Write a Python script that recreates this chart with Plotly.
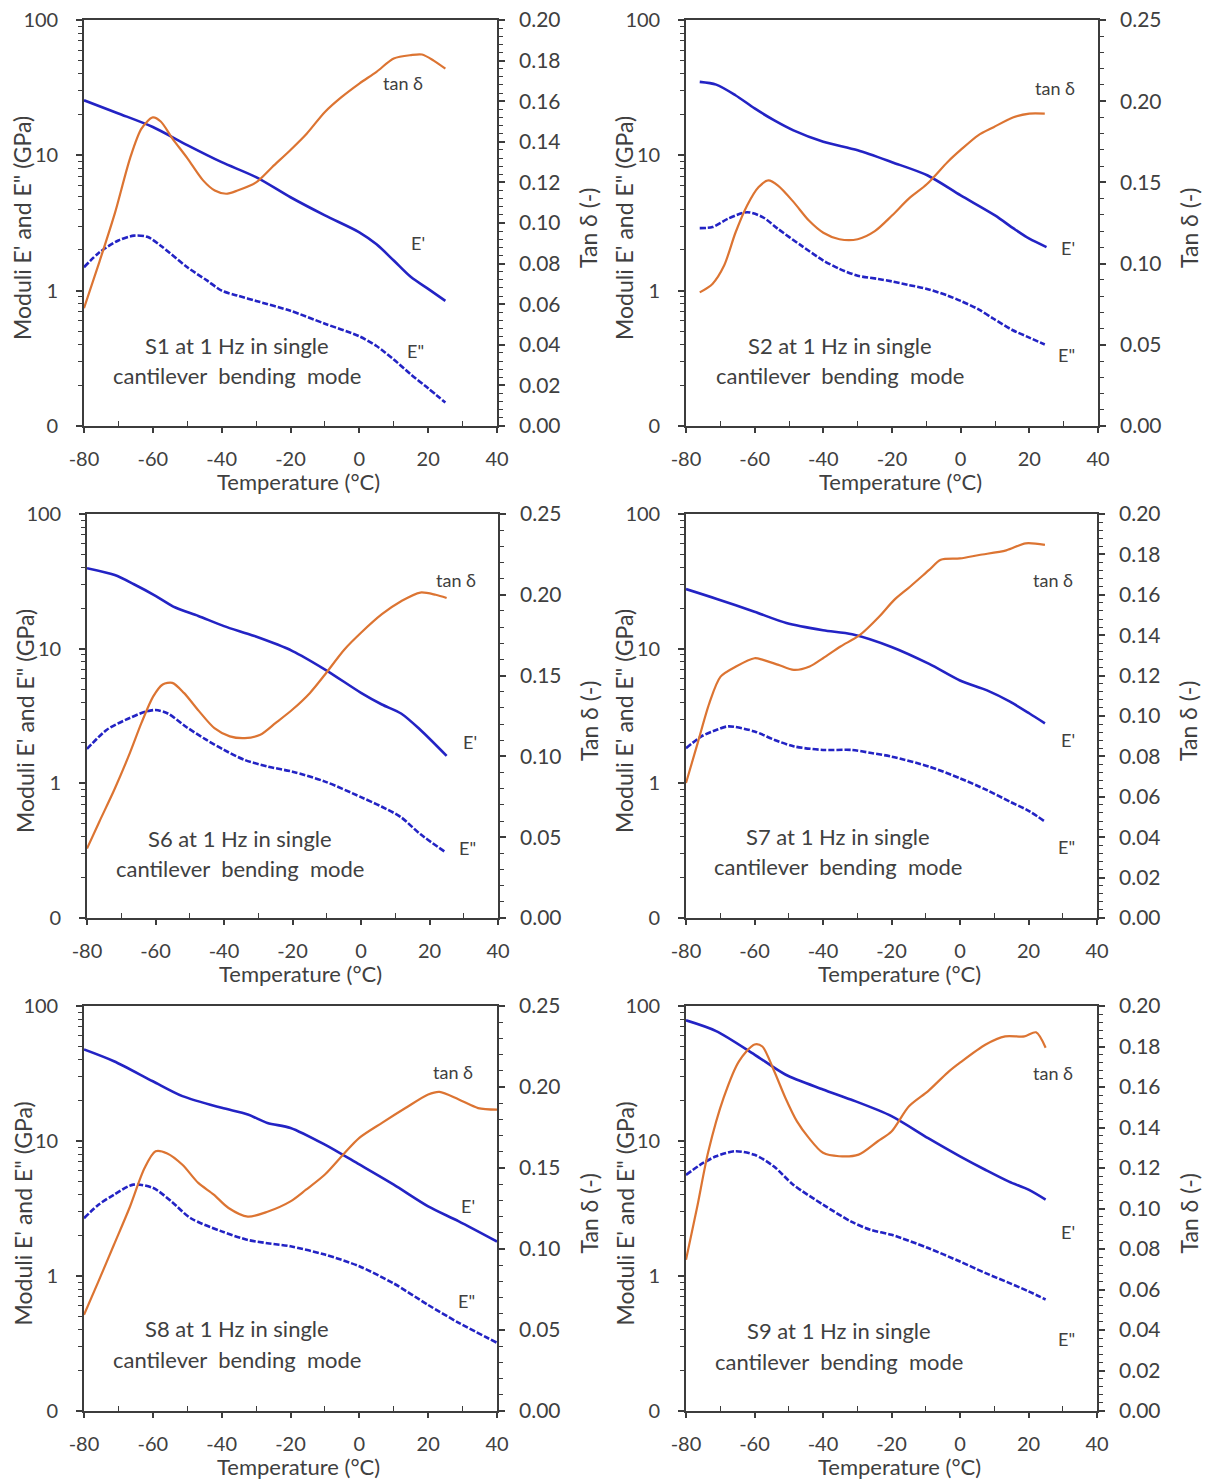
import plotly.graph_objects as go

# ---------------- data ----------------
# S1
S1_T_E1 = [-80, -70, -60, -50, -40, -30, -20, -10, 0, 5, 10, 15, 20, 25]
S1_E1 = [25.5, 20.4, 16.2, 11.9, 8.9, 6.9, 4.9, 3.6, 2.7, 2.2, 1.67, 1.26, 1.03, 0.84]
S1_T_E2 = [-80, -75.5, -70, -65.5, -61.6, -57.7, -50, -44.3, -40, -35.4, -30, -20, -10, 0, 5, 10, 15, 20, 25]
S1_E2 = [1.49, 1.92, 2.35, 2.55, 2.5, 2.15, 1.49, 1.19, 1.0, 0.92, 0.84, 0.71, 0.57, 0.46, 0.39, 0.31, 0.24, 0.19, 0.149]
S1_T_TAN = [-80, -75.5, -71, -66.6, -63.3, -60, -57.7, -54.3, -50, -45.4, -42, -38.7, -35.4, -30, -25.3, -20,
            -15.3, -10, -5.2, 0, 5, 10, 15, 18.2, 21.6, 25]
S1_TAN = [0.058, 0.081, 0.105, 0.132, 0.1465, 0.152, 0.150, 0.1416, 0.132, 0.121, 0.116, 0.1144, 0.116, 0.120,
          0.1276, 0.136, 0.144, 0.1547, 0.162, 0.1687, 0.1745, 0.181, 0.1827, 0.183, 0.180, 0.176]

# S2
S2_T_E1 = [-76, -71.2, -65.6, -60, -54.4, -48.7, -40, -30, -20, -9.6, 0, 10, 15.5, 20, 25]
S2_E1 = [34.9, 33.3, 27.8, 22.2, 18.2, 15.3, 12.6, 10.9, 8.9, 7.1, 5.06, 3.6, 2.87, 2.42, 2.1]
S2_T_E2 = [-76, -72.3, -67.8, -62.2, -57.7, -53.2, -46.4, -40, -35.3, -30, -24, -20, -15.1, -9.8, -3.8, 0,
           5.1, 9.6, 15.2, 20, 24.5]
S2_E2 = [2.9, 2.95, 3.4, 3.8, 3.5, 2.86, 2.15, 1.67, 1.45, 1.29, 1.22, 1.17, 1.10, 1.03, 0.92, 0.84,
         0.73, 0.62, 0.51, 0.45, 0.40]
S2_T_TAN = [-76, -72.3, -68.9, -65.6, -62.2, -58.9, -56, -53.2, -48.7, -44.2, -40, -35.3, -30, -25, -20,
            -15.1, -9.8, -3.8, 0, 5.1, 9.6, 15.2, 20, 24.5]
S2_TAN = [0.0823, 0.0875, 0.0988, 0.119, 0.1358, 0.147, 0.1512, 0.148, 0.138, 0.1265, 0.119, 0.115, 0.115,
          0.120, 0.1296, 0.140, 0.149, 0.1626, 0.170, 0.179, 0.184, 0.190, 0.1924, 0.1924]

# S6
S6_T_E1 = [-80, -71.9, -66.3, -60, -54.2, -47.5, -40, -31.1, -20, -10.5, 0, 6.1, 11.7, 17.3, 25]
S6_E1 = [39.6, 35.2, 30.1, 24.7, 20.2, 17.5, 14.7, 12.4, 9.6, 7.0, 4.7, 3.85, 3.3, 2.5, 1.6]
S6_T_E2 = [-80, -74.2, -68.6, -63, -60, -56.4, -50.8, -45.1, -40, -33.9, -27.1, -20, -10.5, 0, 6.1, 11.7,
           17.3, 24.5]
S6_E2 = [1.8, 2.5, 2.97, 3.4, 3.5, 3.3, 2.6, 2.1, 1.77, 1.49, 1.33, 1.22, 1.03, 0.79, 0.67, 0.56, 0.42, 0.31]
S6_T_TAN = [-80, -76.4, -71.9, -67.5, -64.1, -60.7, -57.9, -55.1, -51.7, -47.3, -42.8, -38.3, -33.9, -29.4,
            -24.9, -20, -14.9, -10.5, -4.9, 0, 6.1, 11.7, 17.3, 21.8, 25]
S6_TAN = [0.043, 0.0596, 0.080, 0.102, 0.1207, 0.137, 0.1445, 0.1455, 0.1393, 0.128, 0.1175, 0.1124, 0.1113,
          0.1134, 0.1207, 0.129, 0.1393, 0.1507, 0.166, 0.1765, 0.188, 0.196, 0.2014, 0.200, 0.198]

# S7
S7_T_E1 = [-80, -71, -60, -50.7, -40, -31.5, -20, -9, 0, 7.9, 14.6, 20.3, 24.8]
S7_E1 = [27.7, 23.4, 18.8, 15.5, 13.7, 12.8, 10.3, 7.7, 5.8, 4.9, 4.04, 3.3, 2.79]
S7_T_E2 = [-80, -75.5, -71, -67.6, -60, -54.1, -48.4, -40, -31.5, -25.9, -20, -9, 0, 7.9, 14.6, 20.3, 24.8]
S7_E2 = [1.82, 2.23, 2.5, 2.65, 2.43, 2.1, 1.88, 1.77, 1.77, 1.68, 1.58, 1.33, 1.09, 0.89, 0.73, 0.62, 0.52]
S7_T_TAN = [-80, -76.6, -73.2, -69.9, -65.4, -60, -57.5, -53, -48.5, -43.9, -40, -34.9, -29.3, -23.7, -19.2,
            -14.6, -9, -5.6, 0, 5.6, 13.5, 19.2, 24.8]
S7_TAN = [0.0668, 0.0866, 0.1063, 0.1195, 0.1245, 0.1286, 0.1278, 0.1253, 0.1228, 0.1245, 0.1286, 0.1344,
          0.140, 0.149, 0.1575, 0.164, 0.1723, 0.1773, 0.178, 0.1797, 0.182, 0.1855, 0.1847]

# S8
S8_T_E1 = [-80, -71.3, -60, -51.4, -40, -32.4, -26.7, -20, -10, 0, 10, 20, 28.9, 40]
S8_E1 = [47.7, 39, 27.7, 21.5, 17.6, 15.7, 13.6, 12.5, 9.4, 6.7, 4.75, 3.28, 2.54, 1.8]
S8_T_E2 = [-80, -75.8, -71.3, -65.7, -60, -54.6, -49.1, -40, -32.4, -26.7, -20, -10, 0, 10, 20, 28.9, 40]
S8_E2 = [2.68, 3.37, 4.0, 4.75, 4.5, 3.57, 2.69, 2.14, 1.85, 1.75, 1.66, 1.44, 1.18, 0.88, 0.61, 0.45, 0.32]
S8_T_TAN = [-80, -75.8, -71.3, -66.8, -62.4, -59.2, -55.8, -51.4, -46.8, -42.3, -38, -32.4, -26.7, -20,
            -15.5, -10, -4.4, 0, 6.7, 13.4, 20, 23.3, 28.9, 34.5, 40]
S8_TAN = [0.0594, 0.08, 0.1026, 0.1253, 0.150, 0.1603, 0.159, 0.152, 0.1408, 0.1336, 0.1253, 0.120, 0.123,
          0.1294, 0.1366, 0.146, 0.159, 0.1686, 0.178, 0.187, 0.1954, 0.197, 0.1923, 0.187, 0.186]

# S9
S9_T_E1 = [-80, -71.2, -60, -51, -40, -31.9, -20, -9.3, 0, 7.5, 14.3, 20, 25]
S9_E1 = [78.3, 65.2, 43.7, 31.1, 24.1, 20.3, 15.3, 10.5, 7.7, 6.1, 5.0, 4.36, 3.68]
S9_T_E2 = [-80, -75.7, -71.2, -65.6, -60, -54.4, -48.7, -40, -31.9, -26.2, -20, -9.3, 0, 7.5, 14.3, 20, 25]
S9_E2 = [5.6, 6.7, 7.7, 8.4, 7.9, 6.5, 4.75, 3.38, 2.54, 2.2, 2.02, 1.61, 1.28, 1.05, 0.89, 0.77, 0.67]
S9_T_TAN = [-80, -76.8, -73.5, -69, -64.5, -60, -57.7, -54.3, -51, -47.6, -44.2, -40, -35.3, -29.6, -24, -20,
            -14.9, -9.3, -3.7, 0, 7.5, 13.2, 18.8, 22.2, 25]
S9_TAN = [0.0747, 0.1002, 0.128, 0.1547, 0.1728, 0.181, 0.180, 0.168, 0.1547, 0.143, 0.135, 0.1275, 0.1258,
          0.1266, 0.1332, 0.138, 0.1505, 0.158, 0.167, 0.172, 0.181, 0.185, 0.185, 0.187, 0.1794]

SAMPLES = ["S1", "S2", "S6", "S7", "S8", "S9"]
TAN_MAX = [0.20, 0.25, 0.25, 0.20, 0.25, 0.20]
LEFT_TICKVALS = [0.1, 1, 10, 100]
LEFT_TICKTEXT = ["0", "1", "10", "100"]
X_TICKVALS = [-80, -60, -40, -20, 0, 20, 40]
X_TICKTEXT = ["-80", "-60", "-40", "-20", "0", "20", "40"]

DATA = {
    "S1": (S1_T_E1, S1_E1, S1_T_E2, S1_E2, S1_T_TAN, S1_TAN),
    "S2": (S2_T_E1, S2_E1, S2_T_E2, S2_E2, S2_T_TAN, S2_TAN),
    "S6": (S6_T_E1, S6_E1, S6_T_E2, S6_E2, S6_T_TAN, S6_TAN),
    "S7": (S7_T_E1, S7_E1, S7_T_E2, S7_E2, S7_T_TAN, S7_TAN),
    "S8": (S8_T_E1, S8_E1, S8_T_E2, S8_E2, S8_T_TAN, S8_TAN),
    "S9": (S9_T_E1, S9_E1, S9_T_E2, S9_E2, S9_T_TAN, S9_TAN),
}

# ---------------- layout geometry (pixels) ----------------
W, H = 1207, 1479
XPIX = [(84, 497), (686, 1098), (87, 498), (686, 1097), (84, 497), (686, 1097)]
YPIX = [(20, 426), (20, 426), (514, 918), (514, 918), (1006, 1411), (1006, 1411)]
# label pixel positions: tan, E', E'', text line1 y, text line2 y, text center x
LABELS = [
    ((403, 83), (418, 243), (415, 351), 345, 375, 237),
    ((1055, 88), (1068, 248), (1066, 355), 345, 375, 840),
    ((456, 580), (470, 742), (467, 848), 838, 868, 240),
    ((1053, 580), (1068, 740), (1066, 847), 836, 867, 838),
    ((453, 1072), (468, 1206), (466, 1301), 1328, 1359, 237),
    ((1053, 1073), (1068, 1232), (1066, 1339), 1330, 1361, 839),
]

BLUE = "#2323c4"
ORANGE = "#dc7432"
AX = "#3c3c3c"
TXT = "#404040"
FONT = "Lato"
TICK_SIZE = 20


def px(x):
    return x / W


def py(y):
    return 1 - y / H


fig = go.Figure()
layout = dict(
    template="none",
    width=W, height=H, margin=dict(l=0, r=0, t=0, b=0, autoexpand=False),
    paper_bgcolor="white", plot_bgcolor="white", showlegend=False,
    font=dict(family=FONT, size=19, color=TXT),
)
annotations = []

minor_log = [v * m for v in (0.1, 1, 10) for m in range(2, 10)]


def ann(x, y, text, size, angle=0):
    return dict(x=px(x), y=py(y), xref="paper", yref="paper", text=text, showarrow=False,
                xanchor="center", yanchor="middle", textangle=angle,
                font=dict(family=FONT, size=size, color=TXT))


for i, s in enumerate(SAMPLES):
    te1, e1, te2, e2, tt, tn = DATA[s]
    xa = f"x{i+1}"
    yl = f"y{2*i+1}"
    yr = f"y{2*i+2}"
    fig.add_trace(go.Scatter(x=te1, y=e1, xaxis=xa, yaxis=yl, mode="lines",
                             line=dict(color=BLUE, width=2.6, shape="spline", smoothing=0.8)))
    fig.add_trace(go.Scatter(x=te2, y=e2, xaxis=xa, yaxis=yl, mode="lines",
                             line=dict(color=BLUE, width=2.6, dash="6px,2px", shape="spline", smoothing=0.8)))
    fig.add_trace(go.Scatter(x=tt, y=tn, xaxis=xa, yaxis=yr, mode="lines",
                             line=dict(color=ORANGE, width=2.2, shape="spline", smoothing=0.8)))

    xl, xr = XPIX[i]
    yt, yb = YPIX[i]
    xdom = [px(xl), px(xr)]
    ydom = [py(yb), py(yt)]
    tmax = TAN_MAX[i]
    major = 0.02 if tmax == 0.20 else 0.05
    minor = 0.004 if tmax == 0.20 else 0.01

    layout[f"xaxis{i+1}"] = dict(
        domain=xdom, anchor=yl, range=[-80, 40], tickmode="array", tickvals=X_TICKVALS,
        ticktext=X_TICKTEXT, automargin=False,
        showline=True, linecolor=AX, linewidth=1.6, mirror=True, showgrid=False, zeroline=False,
        ticks="outside", ticklen=5, tickwidth=1.6, tickcolor=AX, ticklabelstandoff=9,
        minor=dict(ticks="inside", ticklen=5, tickwidth=1.4, tickcolor=AX, tickvals=[-70, -50, -30, -10, 10, 30]),
        tickfont=dict(family=FONT, size=TICK_SIZE, color=TXT),
    )
    layout[f"yaxis{2*i+1}"] = dict(
        domain=ydom, anchor=xa, type="log", range=[-1, 2], tickmode="array", automargin=False,
        tickvals=LEFT_TICKVALS, ticktext=LEFT_TICKTEXT, showline=True, linecolor=AX, linewidth=1.6,
        showgrid=False, zeroline=False, ticks="outside", ticklen=6, tickwidth=1.6, tickcolor=AX,
        ticklabelstandoff=14,
        minor=dict(ticks="outside", ticklen=4, tickwidth=1.2, tickcolor=AX, tickvals=minor_log),
        tickfont=dict(family=FONT, size=TICK_SIZE, color=TXT),
    )
    layout[f"yaxis{2*i+2}"] = dict(
        domain=ydom, anchor=xa, overlaying=yl, side="right", range=[0, tmax], tickmode="linear",
        tick0=0, dtick=major, tickformat=".2f", showline=True, linecolor=AX, linewidth=1.6,
        showgrid=False, zeroline=False, ticks="outside", ticklen=6, tickwidth=1.6, tickcolor=AX,
        ticklabelstandoff=10, automargin=False,
        minor=dict(ticks="outside", ticklen=4, tickwidth=1.2, tickcolor=AX, dtick=minor, tick0=0),
        tickfont=dict(family=FONT, size=TICK_SIZE + 1, color=TXT),
    )

    # axis titles
    annotations.append(ann((xl + xr) / 2 + 8, yb + 55, "Temperature (°C)", 22))
    annotations.append(ann(xl - 62, (yt + yb) / 2 + 5, "Moduli E' and E\" (GPa)", 23, -90))
    annotations.append(ann(xr + 91, (yt + yb) / 2 + 5, "Tan δ (-)", 23, -90))
    # curve labels and sample text
    (tx, ty), (e1x, e1y), (e2x, e2y), l1, l2, cx = LABELS[i]
    annotations.append(ann(tx, ty, "tan δ", 18))
    annotations.append(ann(e1x, e1y, "E'", 18))
    annotations.append(ann(e2x, e2y, "E\"", 18))
    annotations.append(ann(cx, l1, f"{s} at 1 Hz in single", 22))
    annotations.append(ann(cx, l2, "cantilever  bending  mode", 22))

layout["annotations"] = annotations
fig.update_layout(**layout)
fig.write_html("out.html", config={"displayModeBar": False},
               post_script=["document.body.style.margin='0px';"])
